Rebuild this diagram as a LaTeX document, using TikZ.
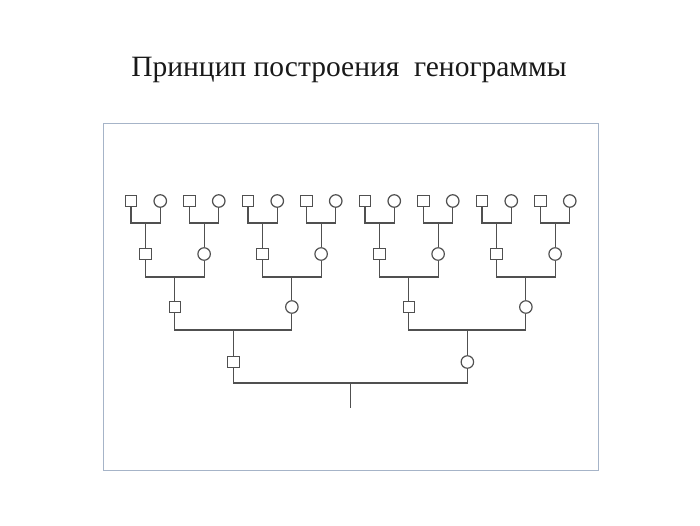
\documentclass[tikz,border=0pt]{standalone}
\usepackage{fontspec}
\setmainfont{Liberation Serif}
\definecolor{framec}{HTML}{A6B4C8}
\definecolor{linec}{HTML}{505050}
\begin{document}
\begin{tikzpicture}[x=1pt,y=-1pt,
  male/.style={draw=linec,line width=1.2pt,rectangle,minimum size=11.5pt,inner sep=0pt,fill=white},
  female/.style={draw=linec,line width=1.2pt,circle,minimum size=12.5pt,inner sep=0pt,fill=white},
  link/.style={draw=linec,line width=1.2pt},
  frame/.style={draw=framec,line width=1.4pt}]
\useasboundingbox (0,0) rectangle (700,525);
\node[anchor=base,font=\fontsize{29.5}{34}\selectfont,text=black!90] (title) at (349,76) {Принцип построения \ генограммы};
\node[frame,rectangle,minimum width=495pt,minimum height=347pt,inner sep=0pt,anchor=north west] (box) at (102.5,122.5) {};
% level 1 (great-grandparents)
\foreach \j in {0,...,15}{
  \pgfmathsetmacro{\xx}{131+29.25*\j}
  \pgfmathtruncatemacro{\odd}{mod(\j,2)}
  \ifnum\odd=0 \node[male] (La\j) at (\xx,201) {}; \else \node[female] (La\j) at (\xx,201) {}; \fi
}
% level 2
\foreach \j in {0,...,7}{
  \pgfmathsetmacro{\xx}{131+29.25*(2*\j+0.5)}
  \pgfmathtruncatemacro{\odd}{mod(\j,2)}
  \ifnum\odd=0 \node[male] (Lb\j) at (\xx,254) {}; \else \node[female] (Lb\j) at (\xx,254) {}; \fi
}
% level 3
\foreach \j in {0,...,3}{
  \pgfmathsetmacro{\xx}{131+29.25*(4*\j+1.5)}
  \pgfmathtruncatemacro{\odd}{mod(\j,2)}
  \ifnum\odd=0 \node[male] (Lc\j) at (\xx,307) {}; \else \node[female] (Lc\j) at (\xx,307) {}; \fi
}
% level 4
\node[male] (Ld0) at ({131+29.25*3.5},362) {};
\node[female] (Ld1) at ({131+29.25*11.5},362) {};
% root
\coordinate (root) at ({131+29.25*7.5},408);
% brackets level 1 -> 2
\foreach \j in {0,...,7}{
  \pgfmathtruncatemacro{\a}{2*\j}
  \pgfmathtruncatemacro{\b}{2*\j+1}
  \coordinate (Ba\j) at (Lb\j.center |- 0,223);
  \draw[link] (La\a.south) |- (Ba\j) -| (La\b.south);
  \draw[link] (Ba\j) -- (Lb\j.north);
}
% level 2 -> 3
\foreach \j in {0,...,3}{
  \pgfmathtruncatemacro{\a}{2*\j}
  \pgfmathtruncatemacro{\b}{2*\j+1}
  \coordinate (Bb\j) at (Lc\j.center |- 0,277);
  \draw[link] (Lb\a.south) |- (Bb\j) -| (Lb\b.south);
  \draw[link] (Bb\j) -- (Lc\j.north);
}
% level 3 -> 4
\foreach \j in {0,1}{
  \pgfmathtruncatemacro{\a}{2*\j}
  \pgfmathtruncatemacro{\b}{2*\j+1}
  \coordinate (Bc\j) at (Ld\j.center |- 0,330);
  \draw[link] (Lc\a.south) |- (Bc\j) -| (Lc\b.south);
  \draw[link] (Bc\j) -- (Ld\j.north);
}
% level 4 -> root
\coordinate (Bd) at (root |- 0,383);
\draw[link] (Ld0.south) |- (Bd) -| (Ld1.south);
\draw[link] (Bd) -- (root);
\end{tikzpicture}
\end{document}
